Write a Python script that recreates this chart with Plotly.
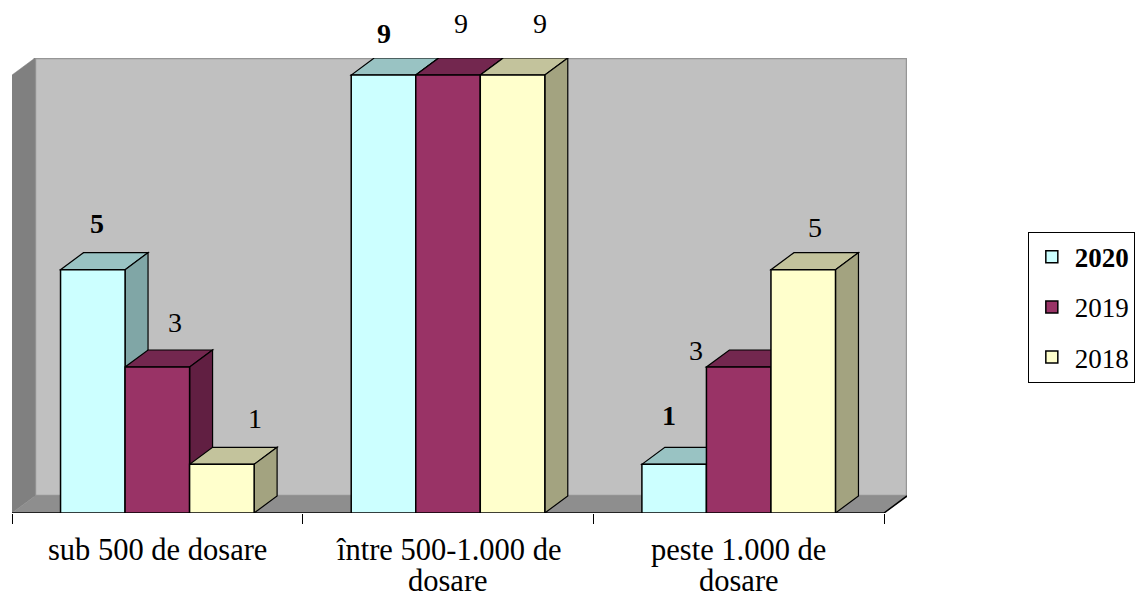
import plotly.graph_objects as go

FONT = "Liberation Serif, Times New Roman, serif"

# data
categories = ["sub 500 de dosare", "între 500-1.000 de<br>dosare", "peste 1.000 de<br>dosare"]
years = ["2020", "2019", "2018"]
v2020 = [5, 9, 1]
v2019 = [3, 9, 3]
v2018 = [1, 9, 5]
series = [v2020, v2019, v2018]

# colours: front, top, side
C_FRONT = ["#CCFFFF", "#993366", "#FFFFCC"]
C_TOP = ["#99C3C3", "#73274F", "#C3C39C"]
C_SIDE = ["#80A6A6", "#611F42", "#A3A380"]

# 3-D depth (data units) and bar geometry
DX, DY = 0.079, 0.35
W = 0.222
YMAX = 9
X0, X1 = -0.5, 2.5

fig = go.Figure()
shapes = []


def poly(pts, fill, line_color="black", lw=1.2):
    path = "M " + " L ".join(f"{x},{y}" for x, y in pts) + " Z"
    return dict(type="path", path=path, xref="x", yref="y", fillcolor=fill,
                line=dict(color=line_color, width=lw), layer="below")


# walls + floor
shapes.append(poly([(X0 + DX, DY), (X1 + DX, DY), (X1 + DX, YMAX + DY), (X0 + DX, YMAX + DY)],
                   "#C0C0C0", "#969696", 2.5))
shapes.append(poly([(X0, 0), (X0 + DX, DY), (X0 + DX, YMAX + DY), (X0, YMAX)], "#808080", "#808080", 0.5))
shapes.append(poly([(X0, 0), (X1, 0), (X1 + DX, DY), (X0 + DX, DY)], "#8E8E8E", "#8E8E8E", 0.5))
shapes.append(dict(type="path", path=f"M {X0},0 L {X1},0 L {X1 + DX},{DY}", xref="x", yref="y",
                   line=dict(color="black", width=1.5), layer="below"))

# top and side faces of the bars, drawn left to right
for ci in range(len(categories)):
    for si, vals in enumerate(series):
        left = ci - 1.5 * W + si * W
        right = left + W
        h = vals[ci]
        shapes.append(poly([(left, h), (right, h), (right + DX, h + DY), (left + DX, h + DY)], C_TOP[si]))
        shapes.append(poly([(right, 0), (right + DX, DY), (right + DX, h + DY), (right, h)], C_SIDE[si]))

# front faces
for si, (yr, vals) in enumerate(zip(years, series)):
    fig.add_trace(go.Bar(
        x=list(range(len(categories))), y=vals, width=W, offset=-1.5 * W + si * W,
        name=f"<b>{yr}</b>" if si == 0 else yr,
        marker=dict(color=C_FRONT[si], line=dict(color="black", width=1.5)),
        legendgroup=yr, hoverinfo="skip",
    ))

# value labels (positions nudged as in the original)
shifts = [
    [(4, 46), (0.5, 42), (-5, 49)],
    [(17.5, 45), (13, 52), (-43, 17)],
    [(33.5, 46), (27, 52), (12, 42)],
]
annotations = []
for si, vals in enumerate(series):
    for ci, v in enumerate(vals):
        xs, ys = shifts[si][ci]
        annotations.append(dict(
            x=ci - 1.5 * W + si * W + W / 2, y=v, xref="x", yref="y",
            text=f"<b>{v}</b>" if si == 0 else str(v), showarrow=False,
            xshift=xs, yshift=ys, font=dict(size=28, color="black", family=FONT),
        ))

# category labels, one annotation per line (tighter line spacing than ticklabels)
for ci, label in enumerate(categories):
    for li, line in enumerate(label.split("<br>")):
        annotations.append(dict(
            x=ci, y=0, xref="x", yref="y", text=line, showarrow=False,
            yshift=-37 - 31 * li, font=dict(size=30.5, color="black", family=FONT),
        ))

fig.update_xaxes(
    range=[X0, X1 + DX], tickvals=list(range(len(categories))), ticktext=["", "", ""],
    showgrid=False, zeroline=False, showline=False, ticks="", automargin=False,
    minor=dict(tickvals=[-0.5, 0.5, 1.5, 2.5], ticks="outside", ticklen=10,
               tickcolor="black", tickwidth=1.2),
)
fig.update_yaxes(range=[0, YMAX + DY], visible=False, automargin=False)

fig.update_layout(
    barmode="overlay",
    shapes=shapes,
    annotations=annotations,
    font=dict(family=FONT, size=27, color="black"),
    paper_bgcolor="white",
    plot_bgcolor="white",
    width=1136, height=590,
    margin=dict(l=4, r=237, t=50, b=85, autoexpand=False),
    showlegend=True,
    legend=dict(x=1.135, y=0.618, xanchor="left", yanchor="top",
                bordercolor="black", borderwidth=1, bgcolor="white",
                font=dict(size=27, family=FONT), tracegroupgap=12,
                itemwidth=36),
)

fig.write_html("out.html")
